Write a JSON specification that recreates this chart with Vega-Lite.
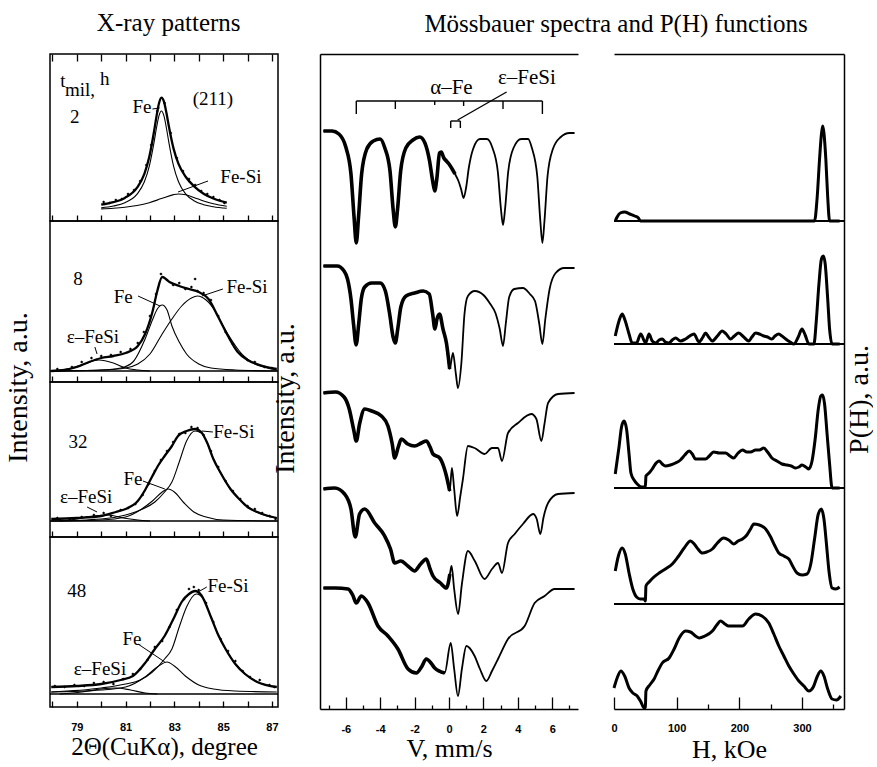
{
"$schema": "https://vega.github.io/schema/vega-lite/v6.json",
"background": "white",
"padding": {"left": 3, "top": 10, "right": 0, "bottom": 0},
"config": {
 "font": "Liberation Serif",
 "view": {"stroke": null},
 "axis": {"grid": false, "domainColor": "black", "tickColor": "black", "labelColor": "black", "titleColor": "black", "labelFont": "Liberation Sans", "labelFontWeight": "bold", "labelFontSize": 11, "titleFont": "Liberation Serif", "titleFontWeight": "normal", "domainWidth": 1.5, "tickWidth": 1.3, "labelFlush": false, "labelOverlap": false},
 "title": {"font": "Liberation Serif", "fontWeight": "normal", "fontSize": 25, "color": "black"}
},
"datasets": {
 "xrd": [
  {"p":1,"s":"tot","x":80.0,"y":16.3},{"p":1,"s":"tot","x":80.5,"y":18.8},{"p":1,"s":"tot","x":80.97,"y":23.1},{"p":1,"s":"tot","x":81.47,"y":33.3},{"p":1,"s":"tot","x":81.77,"y":47.2},{"p":1,"s":"tot","x":81.97,"y":64.0},{"p":1,"s":"tot","x":82.17,"y":90.0},{"p":1,"s":"tot","x":82.27,"y":105.1},{"p":1,"s":"tot","x":82.37,"y":117.8},{"p":1,"s":"tot","x":82.47,"y":123.4},{"p":1,"s":"tot","x":82.57,"y":119.6},{"p":1,"s":"tot","x":82.67,"y":108.7},{"p":1,"s":"tot","x":82.77,"y":95.3},{"p":1,"s":"tot","x":82.97,"y":72.1},{"p":1,"s":"tot","x":83.17,"y":57.2},{"p":1,"s":"tot","x":83.47,"y":44.0},{"p":1,"s":"tot","x":83.8,"y":34.9},{"p":1,"s":"tot","x":84.2,"y":27.3},{"p":1,"s":"tot","x":84.6,"y":22.5},{"p":1,"s":"tot","x":85.15,"y":18.4},
  {"p":1,"s":"fe","x":80.0,"y":13.2},{"p":1,"s":"fe","x":80.5,"y":15},{"p":1,"s":"fe","x":80.97,"y":18.3},{"p":1,"s":"fe","x":81.47,"y":26.8},{"p":1,"s":"fe","x":81.77,"y":39.2},{"p":1,"s":"fe","x":81.97,"y":54.7},{"p":1,"s":"fe","x":82.17,"y":79.2},{"p":1,"s":"fe","x":82.27,"y":93.5},{"p":1,"s":"fe","x":82.37,"y":105.3},{"p":1,"s":"fe","x":82.47,"y":110},{"p":1,"s":"fe","x":82.57,"y":105.3},{"p":1,"s":"fe","x":82.67,"y":93.5},{"p":1,"s":"fe","x":82.77,"y":79.2},{"p":1,"s":"fe","x":82.97,"y":54.7},{"p":1,"s":"fe","x":83.17,"y":39.2},{"p":1,"s":"fe","x":83.47,"y":26.8},{"p":1,"s":"fe","x":83.8,"y":20.3},{"p":1,"s":"fe","x":84.2,"y":16.3},{"p":1,"s":"fe","x":84.6,"y":14.3},{"p":1,"s":"fe","x":85.15,"y":12.7},
  {"p":1,"s":"fesi","x":80.0,"y":12.1},{"p":1,"s":"fesi","x":80.5,"y":12.8},{"p":1,"s":"fesi","x":80.97,"y":13.8},{"p":1,"s":"fesi","x":81.47,"y":15.5},{"p":1,"s":"fesi","x":81.97,"y":18.3},{"p":1,"s":"fesi","x":82.47,"y":22.4},{"p":1,"s":"fesi","x":82.97,"y":26.4},{"p":1,"s":"fesi","x":83.17,"y":27},{"p":1,"s":"fesi","x":83.47,"y":26.2},{"p":1,"s":"fesi","x":83.8,"y":23.6},{"p":1,"s":"fesi","x":84.2,"y":20},{"p":1,"s":"fesi","x":84.6,"y":17.2},{"p":1,"s":"fesi","x":85.15,"y":14.7},
  {"p":1,"s":"dot","x":80.1,"y":19},{"p":1,"s":"dot","x":80.35,"y":18},{"p":1,"s":"dot","x":80.6,"y":21},{"p":1,"s":"dot","x":80.85,"y":22},{"p":1,"s":"dot","x":81.1,"y":27},{"p":1,"s":"dot","x":81.35,"y":31},{"p":1,"s":"dot","x":81.6,"y":40},{"p":1,"s":"dot","x":81.85,"y":56},{"p":1,"s":"dot","x":82.05,"y":76},{"p":1,"s":"dot","x":82.3,"y":110},{"p":1,"s":"dot","x":82.6,"y":118},{"p":1,"s":"dot","x":82.85,"y":88},{"p":1,"s":"dot","x":83.1,"y":63},{"p":1,"s":"dot","x":83.35,"y":50},{"p":1,"s":"dot","x":83.6,"y":42},{"p":1,"s":"dot","x":83.85,"y":36},{"p":1,"s":"dot","x":84.1,"y":30},{"p":1,"s":"dot","x":84.35,"y":27},{"p":1,"s":"dot","x":84.6,"y":24},{"p":1,"s":"dot","x":84.85,"y":21},{"p":1,"s":"dot","x":85.05,"y":18},

  {"p":2,"s":"tot","x":77.95,"y":11},{"p":2,"s":"tot","x":78.5,"y":12},{"p":2,"s":"tot","x":79.0,"y":15},{"p":2,"s":"tot","x":79.5,"y":20},{"p":2,"s":"tot","x":80.0,"y":24},{"p":2,"s":"tot","x":80.5,"y":26},{"p":2,"s":"tot","x":81.0,"y":29},{"p":2,"s":"tot","x":81.5,"y":36},{"p":2,"s":"tot","x":81.8,"y":48},{"p":2,"s":"tot","x":82.1,"y":70},{"p":2,"s":"tot","x":82.3,"y":91},{"p":2,"s":"tot","x":82.5,"y":105},{"p":2,"s":"tot","x":82.8,"y":100},{"p":2,"s":"tot","x":83.2,"y":96},{"p":2,"s":"tot","x":83.6,"y":93},{"p":2,"s":"tot","x":84.0,"y":90},{"p":2,"s":"tot","x":84.4,"y":83},{"p":2,"s":"tot","x":84.8,"y":65},{"p":2,"s":"tot","x":85.2,"y":46},{"p":2,"s":"tot","x":85.6,"y":30},{"p":2,"s":"tot","x":86.0,"y":22},{"p":2,"s":"tot","x":86.5,"y":17},{"p":2,"s":"tot","x":87.2,"y":13},
  {"p":2,"s":"fe","x":77.95,"y":11},{"p":2,"s":"fe","x":80.0,"y":12},{"p":2,"s":"fe","x":80.8,"y":14},{"p":2,"s":"fe","x":81.3,"y":20},{"p":2,"s":"fe","x":81.8,"y":43},{"p":2,"s":"fe","x":82.1,"y":62},{"p":2,"s":"fe","x":82.3,"y":73},{"p":2,"s":"fe","x":82.5,"y":77},{"p":2,"s":"fe","x":82.7,"y":72},{"p":2,"s":"fe","x":82.9,"y":56},{"p":2,"s":"fe","x":83.2,"y":40},{"p":2,"s":"fe","x":83.5,"y":28},{"p":2,"s":"fe","x":84.0,"y":18},{"p":2,"s":"fe","x":84.5,"y":14},{"p":2,"s":"fe","x":85.5,"y":12},{"p":2,"s":"fe","x":87.2,"y":11},
  {"p":2,"s":"fesi","x":77.95,"y":11},{"p":2,"s":"fesi","x":80.0,"y":12},{"p":2,"s":"fesi","x":81.0,"y":14},{"p":2,"s":"fesi","x":81.5,"y":18},{"p":2,"s":"fesi","x":82.0,"y":28},{"p":2,"s":"fesi","x":82.5,"y":48},{"p":2,"s":"fesi","x":82.9,"y":63},{"p":2,"s":"fesi","x":83.3,"y":76},{"p":2,"s":"fesi","x":83.7,"y":84},{"p":2,"s":"fesi","x":83.95,"y":86},{"p":2,"s":"fesi","x":84.3,"y":82},{"p":2,"s":"fesi","x":84.7,"y":70},{"p":2,"s":"fesi","x":85.0,"y":56},{"p":2,"s":"fesi","x":85.4,"y":40},{"p":2,"s":"fesi","x":85.8,"y":27},{"p":2,"s":"fesi","x":86.3,"y":18},{"p":2,"s":"fesi","x":86.8,"y":14},{"p":2,"s":"fesi","x":87.2,"y":12},
  {"p":2,"s":"eps","x":77.95,"y":11},{"p":2,"s":"eps","x":78.6,"y":13},{"p":2,"s":"eps","x":79.3,"y":18},{"p":2,"s":"eps","x":79.9,"y":22},{"p":2,"s":"eps","x":80.5,"y":19},{"p":2,"s":"eps","x":81.0,"y":14},{"p":2,"s":"eps","x":81.5,"y":12},{"p":2,"s":"eps","x":82.0,"y":11},
  {"p":2,"s":"dot","x":78.2,"y":13},{"p":2,"s":"dot","x":78.8,"y":15},{"p":2,"s":"dot","x":79.2,"y":20},{"p":2,"s":"dot","x":79.6,"y":24},{"p":2,"s":"dot","x":80.0,"y":26},{"p":2,"s":"dot","x":80.4,"y":27},{"p":2,"s":"dot","x":80.8,"y":30},{"p":2,"s":"dot","x":81.2,"y":33},{"p":2,"s":"dot","x":81.5,"y":39},{"p":2,"s":"dot","x":81.75,"y":50},{"p":2,"s":"dot","x":82.0,"y":66},{"p":2,"s":"dot","x":82.25,"y":88},{"p":2,"s":"dot","x":82.45,"y":108},{"p":2,"s":"dot","x":82.7,"y":102},{"p":2,"s":"dot","x":82.95,"y":97},{"p":2,"s":"dot","x":83.2,"y":99},{"p":2,"s":"dot","x":83.45,"y":93},{"p":2,"s":"dot","x":83.7,"y":95},{"p":2,"s":"dot","x":83.85,"y":103},{"p":2,"s":"dot","x":83.95,"y":91},{"p":2,"s":"dot","x":84.2,"y":89},{"p":2,"s":"dot","x":84.5,"y":82},{"p":2,"s":"dot","x":84.8,"y":66},{"p":2,"s":"dot","x":85.1,"y":50},{"p":2,"s":"dot","x":85.4,"y":38},{"p":2,"s":"dot","x":85.7,"y":28},{"p":2,"s":"dot","x":86.0,"y":22},{"p":2,"s":"dot","x":86.3,"y":20},{"p":2,"s":"dot","x":86.7,"y":15},{"p":2,"s":"dot","x":87.0,"y":14},

  {"p":3,"s":"tot","x":77.95,"y":18},{"p":3,"s":"tot","x":79.0,"y":19},{"p":3,"s":"tot","x":80.0,"y":21},{"p":3,"s":"tot","x":80.6,"y":25},{"p":3,"s":"tot","x":81.0,"y":28},{"p":3,"s":"tot","x":81.5,"y":36},{"p":3,"s":"tot","x":81.8,"y":47},{"p":3,"s":"tot","x":82.1,"y":61},{"p":3,"s":"tot","x":82.35,"y":72},{"p":3,"s":"tot","x":82.6,"y":81},{"p":3,"s":"tot","x":82.9,"y":91},{"p":3,"s":"tot","x":83.15,"y":101},{"p":3,"s":"tot","x":83.5,"y":106},{"p":3,"s":"tot","x":83.85,"y":108},{"p":3,"s":"tot","x":84.1,"y":105},{"p":3,"s":"tot","x":84.35,"y":94},{"p":3,"s":"tot","x":84.6,"y":78},{"p":3,"s":"tot","x":84.9,"y":64},{"p":3,"s":"tot","x":85.3,"y":48},{"p":3,"s":"tot","x":85.7,"y":37},{"p":3,"s":"tot","x":86.0,"y":30},{"p":3,"s":"tot","x":86.5,"y":24},{"p":3,"s":"tot","x":87.2,"y":19},
  {"p":3,"s":"fe","x":77.95,"y":16},{"p":3,"s":"fe","x":80.0,"y":17},{"p":3,"s":"fe","x":81.0,"y":20},{"p":3,"s":"fe","x":81.6,"y":27},{"p":3,"s":"fe","x":82.1,"y":36},{"p":3,"s":"fe","x":82.5,"y":45},{"p":3,"s":"fe","x":82.75,"y":48},{"p":3,"s":"fe","x":83.0,"y":45},{"p":3,"s":"fe","x":83.4,"y":34},{"p":3,"s":"fe","x":83.8,"y":25},{"p":3,"s":"fe","x":84.3,"y":20},{"p":3,"s":"fe","x":85.0,"y":17},{"p":3,"s":"fe","x":87.2,"y":16},
  {"p":3,"s":"fesi","x":77.95,"y":16},{"p":3,"s":"fesi","x":80.0,"y":18},{"p":3,"s":"fesi","x":81.0,"y":22},{"p":3,"s":"fesi","x":81.7,"y":28},{"p":3,"s":"fesi","x":82.2,"y":35},{"p":3,"s":"fesi","x":82.6,"y":45},{"p":3,"s":"fesi","x":82.9,"y":55},{"p":3,"s":"fesi","x":83.2,"y":75},{"p":3,"s":"fesi","x":83.5,"y":96},{"p":3,"s":"fesi","x":83.85,"y":106},{"p":3,"s":"fesi","x":84.1,"y":104},{"p":3,"s":"fesi","x":84.35,"y":94},{"p":3,"s":"fesi","x":84.6,"y":78},{"p":3,"s":"fesi","x":84.9,"y":64},{"p":3,"s":"fesi","x":85.3,"y":48},{"p":3,"s":"fesi","x":85.7,"y":37},{"p":3,"s":"fesi","x":86.2,"y":27},{"p":3,"s":"fesi","x":86.8,"y":21},{"p":3,"s":"fesi","x":87.2,"y":19},
  {"p":3,"s":"eps","x":78.3,"y":16},{"p":3,"s":"eps","x":79.0,"y":18},{"p":3,"s":"eps","x":79.7,"y":21},{"p":3,"s":"eps","x":80.3,"y":22},{"p":3,"s":"eps","x":80.9,"y":19},{"p":3,"s":"eps","x":81.5,"y":17},{"p":3,"s":"eps","x":82.0,"y":16},
  {"p":3,"s":"dot","x":78.2,"y":19},{"p":3,"s":"dot","x":78.7,"y":18},{"p":3,"s":"dot","x":79.2,"y":20},{"p":3,"s":"dot","x":79.7,"y":22},{"p":3,"s":"dot","x":80.1,"y":24},{"p":3,"s":"dot","x":80.4,"y":21},{"p":3,"s":"dot","x":80.8,"y":27},{"p":3,"s":"dot","x":81.1,"y":29},{"p":3,"s":"dot","x":81.4,"y":33},{"p":3,"s":"dot","x":81.7,"y":42},{"p":3,"s":"dot","x":81.95,"y":53},{"p":3,"s":"dot","x":82.2,"y":66},{"p":3,"s":"dot","x":82.45,"y":77},{"p":3,"s":"dot","x":82.7,"y":86},{"p":3,"s":"dot","x":82.95,"y":95},{"p":3,"s":"dot","x":83.2,"y":103},{"p":3,"s":"dot","x":83.45,"y":104},{"p":3,"s":"dot","x":83.7,"y":110},{"p":3,"s":"dot","x":83.95,"y":109},{"p":3,"s":"dot","x":84.2,"y":102},{"p":3,"s":"dot","x":84.5,"y":86},{"p":3,"s":"dot","x":84.8,"y":70},{"p":3,"s":"dot","x":85.1,"y":56},{"p":3,"s":"dot","x":85.4,"y":46},{"p":3,"s":"dot","x":85.7,"y":38},{"p":3,"s":"dot","x":86.0,"y":31},{"p":3,"s":"dot","x":86.3,"y":28},{"p":3,"s":"dot","x":86.6,"y":24},{"p":3,"s":"dot","x":86.9,"y":21},{"p":3,"s":"dot","x":87.15,"y":18},

  {"p":4,"s":"tot","x":77.95,"y":20},{"p":4,"s":"tot","x":79.0,"y":21},{"p":4,"s":"tot","x":80.0,"y":23},{"p":4,"s":"tot","x":80.8,"y":27},{"p":4,"s":"tot","x":81.3,"y":31},{"p":4,"s":"tot","x":81.8,"y":44},{"p":4,"s":"tot","x":82.2,"y":58},{"p":4,"s":"tot","x":82.6,"y":71},{"p":4,"s":"tot","x":83.0,"y":90},{"p":4,"s":"tot","x":83.3,"y":105},{"p":4,"s":"tot","x":83.6,"y":113},{"p":4,"s":"tot","x":83.85,"y":116},{"p":4,"s":"tot","x":84.1,"y":112},{"p":4,"s":"tot","x":84.5,"y":90},{"p":4,"s":"tot","x":84.8,"y":72},{"p":4,"s":"tot","x":85.1,"y":58},{"p":4,"s":"tot","x":85.5,"y":43},{"p":4,"s":"tot","x":85.9,"y":33},{"p":4,"s":"tot","x":86.4,"y":25},{"p":4,"s":"tot","x":87.2,"y":20},
  {"p":4,"s":"fe","x":77.95,"y":15},{"p":4,"s":"fe","x":80.0,"y":17},{"p":4,"s":"fe","x":81.0,"y":20},{"p":4,"s":"fe","x":81.8,"y":30},{"p":4,"s":"fe","x":82.3,"y":40},{"p":4,"s":"fe","x":82.7,"y":45},{"p":4,"s":"fe","x":83.0,"y":41},{"p":4,"s":"fe","x":83.45,"y":31},{"p":4,"s":"fe","x":84.0,"y":22},{"p":4,"s":"fe","x":84.6,"y":18},{"p":4,"s":"fe","x":85.5,"y":16},{"p":4,"s":"fe","x":87.2,"y":15},
  {"p":4,"s":"fesi","x":77.95,"y":15},{"p":4,"s":"fesi","x":80.0,"y":19},{"p":4,"s":"fesi","x":81.0,"y":23},{"p":4,"s":"fesi","x":81.6,"y":27},{"p":4,"s":"fesi","x":82.1,"y":35},{"p":4,"s":"fesi","x":82.6,"y":48},{"p":4,"s":"fesi","x":82.9,"y":58},{"p":4,"s":"fesi","x":83.2,"y":80},{"p":4,"s":"fesi","x":83.5,"y":100},{"p":4,"s":"fesi","x":83.9,"y":113},{"p":4,"s":"fesi","x":84.2,"y":108},{"p":4,"s":"fesi","x":84.5,"y":90},{"p":4,"s":"fesi","x":84.8,"y":72},{"p":4,"s":"fesi","x":85.1,"y":58},{"p":4,"s":"fesi","x":85.5,"y":43},{"p":4,"s":"fesi","x":85.9,"y":33},{"p":4,"s":"fesi","x":86.4,"y":25},{"p":4,"s":"fesi","x":87.2,"y":20},
  {"p":4,"s":"eps","x":78.3,"y":13},{"p":4,"s":"eps","x":79.2,"y":15},{"p":4,"s":"eps","x":80.0,"y":18},{"p":4,"s":"eps","x":80.6,"y":19},{"p":4,"s":"eps","x":81.2,"y":17},{"p":4,"s":"eps","x":81.8,"y":14},{"p":4,"s":"eps","x":82.3,"y":13},
  {"p":4,"s":"dot","x":78.1,"y":21},{"p":4,"s":"dot","x":78.5,"y":20},{"p":4,"s":"dot","x":78.9,"y":22},{"p":4,"s":"dot","x":79.3,"y":21},{"p":4,"s":"dot","x":79.7,"y":24},{"p":4,"s":"dot","x":80.1,"y":25},{"p":4,"s":"dot","x":80.5,"y":23},{"p":4,"s":"dot","x":80.9,"y":28},{"p":4,"s":"dot","x":81.3,"y":33},{"p":4,"s":"dot","x":81.6,"y":38},{"p":4,"s":"dot","x":81.9,"y":47},{"p":4,"s":"dot","x":82.2,"y":60},{"p":4,"s":"dot","x":82.5,"y":66},{"p":4,"s":"dot","x":82.8,"y":80},{"p":4,"s":"dot","x":83.1,"y":97},{"p":4,"s":"dot","x":83.4,"y":108},{"p":4,"s":"dot","x":83.6,"y":118},{"p":4,"s":"dot","x":83.8,"y":120},{"p":4,"s":"dot","x":84.0,"y":117},{"p":4,"s":"dot","x":84.3,"y":104},{"p":4,"s":"dot","x":84.6,"y":85},{"p":4,"s":"dot","x":84.9,"y":68},{"p":4,"s":"dot","x":85.2,"y":56},{"p":4,"s":"dot","x":85.5,"y":46},{"p":4,"s":"dot","x":85.8,"y":36},{"p":4,"s":"dot","x":86.1,"y":30},{"p":4,"s":"dot","x":86.5,"y":27},{"p":4,"s":"dot","x":86.9,"y":22},{"p":4,"s":"dot","x":87.1,"y":20}
 ],
 "xbase": [{"p":2,"y":11},{"p":3,"y":16},{"p":4,"y":13}],
 "xlead": [
  {"p":1,"g":"a","x":82.1,"y":112},{"p":1,"g":"a","x":82.4,"y":113},
  {"p":1,"g":"b","x":84.38,"y":40},{"p":1,"g":"b","x":83.15,"y":29},
  {"p":2,"g":"a","x":81.51,"y":86},{"p":2,"g":"a","x":82.41,"y":76},
  {"p":2,"g":"b","x":84.99,"y":93},{"p":2,"g":"b","x":84.13,"y":86},
  {"p":2,"g":"c","x":79.74,"y":35},{"p":2,"g":"c","x":79.83,"y":28},
  {"p":3,"g":"a","x":84.58,"y":105},{"p":3,"g":"a","x":84.13,"y":106},
  {"p":3,"g":"b","x":81.71,"y":56},{"p":3,"g":"b","x":82.61,"y":48},
  {"p":3,"g":"c","x":79.42,"y":30},{"p":3,"g":"c","x":79.83,"y":25},
  {"p":4,"g":"a","x":84.33,"y":120},{"p":4,"g":"a","x":83.97,"y":115},
  {"p":4,"g":"b","x":81.51,"y":63},{"p":4,"g":"b","x":82.61,"y":45}
 ],
 "xlab": [
  {"p":1,"x":78.43,"y":140,"t":"t"},{"p":1,"x":79.13,"y":131,"t":"mil,"},{"p":1,"x":80.15,"y":142,"t":"h"},{"p":1,"x":78.92,"y":104,"t":"2"},{"p":1,"x":81.67,"y":114,"t":"Fe"},{"p":1,"x":84.58,"y":122,"t":"(211)"},{"p":1,"x":85.73,"y":44,"t":"Fe-Si"},
  {"p":2,"x":79.05,"y":103,"t":"8"},{"p":2,"x":80.9,"y":85,"t":"Fe"},{"p":2,"x":85.98,"y":95,"t":"Fe-Si"},{"p":2,"x":79.66,"y":45,"t":"ε–FeSi"},
  {"p":3,"x":79.05,"y":95,"t":"32"},{"p":3,"x":85.44,"y":105,"t":"Fe-Si"},{"p":3,"x":81.3,"y":58,"t":"Fe"},{"p":3,"x":79.38,"y":40,"t":"ε–FeSi"},
  {"p":4,"x":79.0,"y":116,"t":"48"},{"p":4,"x":85.2,"y":121,"t":"Fe-Si"},{"p":4,"x":81.26,"y":68,"t":"Fe"},{"p":4,"x":79.95,"y":38,"t":"ε–FeSi"}
 ],
 "ms": [
  {"s":1,"v":-7.3,"y":578},{"s":1,"v":-6.8,"y":578},{"s":1,"v":-6.4,"y":575},{"s":1,"v":-6.0,"y":562},{"s":1,"v":-5.7,"y":535},{"s":1,"v":-5.52,"y":492},{"s":1,"v":-5.39,"y":466},{"s":1,"v":-5.26,"y":492},{"s":1,"v":-5.08,"y":535},{"s":1,"v":-4.78,"y":560},{"s":1,"v":-4.4,"y":568},{"s":1,"v":-4.0,"y":570},{"s":1,"v":-3.73,"y":561},{"s":1,"v":-3.43,"y":538},{"s":1,"v":-3.25,"y":500},{"s":1,"v":-3.12,"y":482},{"s":1,"v":-2.99,"y":500},{"s":1,"v":-2.81,"y":538},{"s":1,"v":-2.51,"y":561},{"s":1,"v":-2.1,"y":569},{"s":1,"v":-1.7,"y":572},{"s":1,"v":-1.4,"y":566},{"s":1,"v":-1.13,"y":548},{"s":1,"v":-0.95,"y":528},{"s":1,"v":-0.83,"y":518},{"s":1,"v":-0.71,"y":530},{"s":1,"v":-0.55,"y":556},{"s":1,"v":-0.45,"y":557},{"s":1,"v":-0.3,"y":551},{"s":1,"v":-0.15,"y":548},{"s":1,"v":0.0,"y":545},{"s":1,"v":0.15,"y":541},{"s":1,"v":0.35,"y":535},{"s":1,"v":0.55,"y":528},{"s":1,"v":0.7,"y":520},{"s":1,"v":0.85,"y":511},{"s":1,"v":1.0,"y":522},{"s":1,"v":1.15,"y":541},{"s":1,"v":1.4,"y":560},{"s":1,"v":1.8,"y":570},{"s":1,"v":2.2,"y":570},{"s":1,"v":2.53,"y":561},{"s":1,"v":2.84,"y":537},{"s":1,"v":3.02,"y":500},{"s":1,"v":3.14,"y":484},{"s":1,"v":3.26,"y":500},{"s":1,"v":3.44,"y":537},{"s":1,"v":3.75,"y":561},{"s":1,"v":4.2,"y":570},{"s":1,"v":4.6,"y":570},{"s":1,"v":4.82,"y":561},{"s":1,"v":5.13,"y":533},{"s":1,"v":5.31,"y":488},{"s":1,"v":5.43,"y":466},{"s":1,"v":5.55,"y":488},{"s":1,"v":5.73,"y":533},{"s":1,"v":6.04,"y":560},{"s":1,"v":6.5,"y":572},{"s":1,"v":7.0,"y":576},{"s":1,"v":7.3,"y":576},
  {"s":2,"v":-7.3,"y":443},{"s":2,"v":-6.5,"y":443},{"s":2,"v":-6.1,"y":438},{"s":2,"v":-5.9,"y":430},{"s":2,"v":-5.7,"y":410},{"s":2,"v":-5.55,"y":385},{"s":2,"v":-5.4,"y":364},{"s":2,"v":-5.25,"y":385},{"s":2,"v":-5.1,"y":410},{"s":2,"v":-4.9,"y":422},{"s":2,"v":-4.5,"y":426},{"s":2,"v":-4.0,"y":426},{"s":2,"v":-3.7,"y":418},{"s":2,"v":-3.45,"y":395},{"s":2,"v":-3.25,"y":372},{"s":2,"v":-3.12,"y":366},{"s":2,"v":-2.98,"y":380},{"s":2,"v":-2.8,"y":402},{"s":2,"v":-2.5,"y":413},{"s":2,"v":-2.0,"y":416},{"s":2,"v":-1.5,"y":418},{"s":2,"v":-1.15,"y":415},{"s":2,"v":-0.95,"y":395},{"s":2,"v":-0.82,"y":380},{"s":2,"v":-0.7,"y":390},{"s":2,"v":-0.55,"y":395},{"s":2,"v":-0.35,"y":380},{"s":2,"v":-0.15,"y":366},{"s":2,"v":0.04,"y":340},{"s":2,"v":0.23,"y":356},{"s":2,"v":0.4,"y":335},{"s":2,"v":0.52,"y":321},{"s":2,"v":0.72,"y":346},{"s":2,"v":0.9,"y":395},{"s":2,"v":1.1,"y":413},{"s":2,"v":1.5,"y":418},{"s":2,"v":2.0,"y":414},{"s":2,"v":2.4,"y":405},{"s":2,"v":2.7,"y":396},{"s":2,"v":2.95,"y":380},{"s":2,"v":3.14,"y":363},{"s":2,"v":3.3,"y":385},{"s":2,"v":3.5,"y":412},{"s":2,"v":3.8,"y":420},{"s":2,"v":4.3,"y":421},{"s":2,"v":4.7,"y":415},{"s":2,"v":5.0,"y":408},{"s":2,"v":5.25,"y":385},{"s":2,"v":5.43,"y":365},{"s":2,"v":5.6,"y":390},{"s":2,"v":5.85,"y":420},{"s":2,"v":6.2,"y":436},{"s":2,"v":6.7,"y":441},{"s":2,"v":7.3,"y":441},
  {"s":3,"v":-7.3,"y":316},{"s":3,"v":-6.6,"y":317},{"s":3,"v":-6.1,"y":312},{"s":3,"v":-5.8,"y":300},{"s":3,"v":-5.55,"y":280},{"s":3,"v":-5.39,"y":268},{"s":3,"v":-5.2,"y":285},{"s":3,"v":-4.9,"y":300},{"s":3,"v":-4.5,"y":298},{"s":3,"v":-3.93,"y":293},{"s":3,"v":-3.55,"y":283},{"s":3,"v":-3.3,"y":265},{"s":3,"v":-3.16,"y":251},{"s":3,"v":-2.95,"y":262},{"s":3,"v":-2.77,"y":270},{"s":3,"v":-2.4,"y":265},{"s":3,"v":-2.0,"y":263},{"s":3,"v":-1.6,"y":266},{"s":3,"v":-1.32,"y":268},{"s":3,"v":-1.1,"y":262},{"s":3,"v":-0.93,"y":255},{"s":3,"v":-0.54,"y":251},{"s":3,"v":-0.3,"y":242},{"s":3,"v":-0.15,"y":233},{"s":3,"v":0.04,"y":218},{"s":3,"v":0.17,"y":241},{"s":3,"v":0.3,"y":220},{"s":3,"v":0.47,"y":193},{"s":3,"v":0.65,"y":212},{"s":3,"v":0.81,"y":230},{"s":3,"v":1.1,"y":263},{"s":3,"v":1.49,"y":261},{"s":3,"v":2.07,"y":255},{"s":3,"v":2.5,"y":261},{"s":3,"v":2.85,"y":261},{"s":3,"v":3.08,"y":248},{"s":3,"v":3.43,"y":276},{"s":3,"v":4.01,"y":286},{"s":3,"v":4.79,"y":295},{"s":3,"v":5.08,"y":290},{"s":3,"v":5.37,"y":268},{"s":3,"v":5.55,"y":285},{"s":3,"v":5.76,"y":306},{"s":3,"v":6.34,"y":315},{"s":3,"v":7.3,"y":316},
  {"s":4,"v":-7.3,"y":220},{"s":4,"v":-6.65,"y":221},{"s":4,"v":-6.07,"y":215},{"s":4,"v":-5.7,"y":200},{"s":4,"v":-5.45,"y":172},{"s":4,"v":-5.2,"y":195},{"s":4,"v":-4.9,"y":200},{"s":4,"v":-4.32,"y":186},{"s":4,"v":-3.74,"y":173},{"s":4,"v":-3.4,"y":160},{"s":4,"v":-3.16,"y":146},{"s":4,"v":-2.8,"y":148},{"s":4,"v":-2.39,"y":143},{"s":4,"v":-2.0,"y":138},{"s":4,"v":-1.65,"y":145},{"s":4,"v":-1.32,"y":150},{"s":4,"v":-1.1,"y":140},{"s":4,"v":-0.93,"y":133},{"s":4,"v":-0.5,"y":126},{"s":4,"v":-0.15,"y":121},{"s":4,"v":0.05,"y":135},{"s":4,"v":0.15,"y":143},{"s":4,"v":0.3,"y":120},{"s":4,"v":0.53,"y":95},{"s":4,"v":0.75,"y":125},{"s":4,"v":1.1,"y":158},{"s":4,"v":1.5,"y":148},{"s":4,"v":2.07,"y":130},{"s":4,"v":2.5,"y":140},{"s":4,"v":2.85,"y":146},{"s":4,"v":3.08,"y":136},{"s":4,"v":3.43,"y":166},{"s":4,"v":3.82,"y":175},{"s":4,"v":4.3,"y":185},{"s":4,"v":4.89,"y":195},{"s":4,"v":5.1,"y":190},{"s":4,"v":5.31,"y":175},{"s":4,"v":5.5,"y":192},{"s":4,"v":5.76,"y":206},{"s":4,"v":6.34,"y":215},{"s":4,"v":7.3,"y":216},
  {"s":5,"v":-7.3,"y":121},{"s":5,"v":-6.6,"y":121},{"s":5,"v":-5.87,"y":120},{"s":5,"v":-5.6,"y":114},{"s":5,"v":-5.39,"y":106},{"s":5,"v":-5.1,"y":113},{"s":5,"v":-4.71,"y":106},{"s":5,"v":-4.13,"y":83},{"s":5,"v":-3.55,"y":73},{"s":5,"v":-2.97,"y":60},{"s":5,"v":-2.38,"y":40},{"s":5,"v":-1.9,"y":36},{"s":5,"v":-1.6,"y":42},{"s":5,"v":-1.32,"y":50},{"s":5,"v":-1.05,"y":46},{"s":5,"v":-0.83,"y":41},{"s":5,"v":-0.25,"y":36},{"s":5,"v":0.1,"y":66},{"s":5,"v":0.3,"y":40},{"s":5,"v":0.52,"y":13},{"s":5,"v":0.75,"y":40},{"s":5,"v":1.01,"y":63},{"s":5,"v":1.49,"y":53},{"s":5,"v":1.8,"y":40},{"s":5,"v":2.17,"y":28},{"s":5,"v":2.5,"y":38},{"s":5,"v":2.85,"y":50},{"s":5,"v":3.43,"y":70},{"s":5,"v":4.4,"y":83},{"s":5,"v":4.98,"y":106},{"s":5,"v":5.56,"y":113},{"s":5,"v":6.14,"y":120},{"s":5,"v":7.3,"y":120}
 ],
 "msann": [
  {"g":"a0","v":-5.39,"y":608},{"g":"a0","v":5.43,"y":608},
  {"g":"a1","v":-5.39,"y":608},{"g":"a1","v":-5.39,"y":595},
  {"g":"a2","v":-3.12,"y":608},{"g":"a2","v":-3.12,"y":600},
  {"g":"a3","v":-0.83,"y":608},{"g":"a3","v":-0.83,"y":604},
  {"g":"a4","v":0.85,"y":608},{"g":"a4","v":0.85,"y":603},
  {"g":"a5","v":3.14,"y":608},{"g":"a5","v":3.14,"y":600},
  {"g":"a6","v":5.43,"y":608},{"g":"a6","v":5.43,"y":595},
  {"g":"e1","v":0.1,"y":581},{"g":"e1","v":0.1,"y":588},
  {"g":"e2","v":0.1,"y":588},{"g":"e2","v":0.66,"y":588},
  {"g":"e3","v":0.66,"y":588},{"g":"e3","v":0.66,"y":581},
  {"g":"e4","v":0.5,"y":589},{"g":"e4","v":3.35,"y":617}
 ],
 "mslab": [{"v":0.14,"y":621,"t":"α–Fe"},{"v":4.53,"y":631,"t":"ε–FeSi"}],
 "phbase": [{"y":488},{"y":365},{"y":221},{"y":105}],
 "ph": [
  {"s":1,"h":2,"y":488},{"s":1,"h":5,"y":492},{"s":1,"h":10,"y":496},{"s":1,"h":17,"y":497},{"s":1,"h":25,"y":495},{"s":1,"h":33,"y":493},{"s":1,"h":39,"y":491},{"s":1,"h":42,"y":488},{"s":1,"h":320,"y":488},{"s":1,"h":324,"y":510},{"s":1,"h":328,"y":550},{"s":1,"h":331,"y":575},{"s":1,"h":333,"y":583},{"s":1,"h":335,"y":576},{"s":1,"h":338,"y":550},{"s":1,"h":341,"y":512},{"s":1,"h":344,"y":488},{"s":1,"h":360,"y":488},
  {"s":2,"h":2,"y":373},{"s":2,"h":8,"y":388},{"s":2,"h":13,"y":395},{"s":2,"h":18,"y":388},{"s":2,"h":24,"y":375},{"s":2,"h":29,"y":366},{"s":2,"h":36,"y":366},{"s":2,"h":42.5,"y":375},{"s":2,"h":50.5,"y":366},{"s":2,"h":55.8,"y":375},{"s":2,"h":61,"y":368},{"s":2,"h":66.5,"y":366},{"s":2,"h":72,"y":369},{"s":2,"h":77,"y":370},{"s":2,"h":82,"y":367},{"s":2,"h":87.7,"y":366},{"s":2,"h":93,"y":369},{"s":2,"h":98.4,"y":371},{"s":2,"h":106,"y":368},{"s":2,"h":114,"y":370},{"s":2,"h":121,"y":373},{"s":2,"h":127.6,"y":375},{"s":2,"h":135.6,"y":367},{"s":2,"h":141,"y":371},{"s":2,"h":146,"y":376},{"s":2,"h":151,"y":372},{"s":2,"h":156.8,"y":368},{"s":2,"h":165,"y":373},{"s":2,"h":172.7,"y":378},{"s":2,"h":179,"y":375},{"s":2,"h":186,"y":370},{"s":2,"h":192,"y":373},{"s":2,"h":199,"y":376},{"s":2,"h":207,"y":372},{"s":2,"h":215,"y":368},{"s":2,"h":220,"y":372},{"s":2,"h":226,"y":376},{"s":2,"h":232,"y":375},{"s":2,"h":239,"y":373},{"s":2,"h":245,"y":372},{"s":2,"h":252,"y":370},{"s":2,"h":257,"y":373},{"s":2,"h":263,"y":375},{"s":2,"h":268,"y":373},{"s":2,"h":274,"y":370},{"s":2,"h":281,"y":367},{"s":2,"h":287,"y":365},{"s":2,"h":294,"y":372},{"s":2,"h":300,"y":380},{"s":2,"h":305,"y":374},{"s":2,"h":311,"y":365},{"s":2,"h":319,"y":365},{"s":2,"h":323,"y":390},{"s":2,"h":327,"y":425},{"s":2,"h":331,"y":450},{"s":2,"h":334,"y":453},{"s":2,"h":337,"y":445},{"s":2,"h":341,"y":410},{"s":2,"h":344,"y":380},{"s":2,"h":348,"y":365},{"s":2,"h":360,"y":365},
  {"s":3,"h":2,"y":235},{"s":3,"h":8,"y":262},{"s":3,"h":12,"y":282},{"s":3,"h":16,"y":288},{"s":3,"h":20,"y":280},{"s":3,"h":24,"y":255},{"s":3,"h":27,"y":236},{"s":3,"h":32,"y":229},{"s":3,"h":37,"y":225},{"s":3,"h":44,"y":222},{"s":3,"h":50,"y":222},{"s":3,"h":51,"y":233},{"s":3,"h":56,"y":236},{"s":3,"h":61,"y":240},{"s":3,"h":66,"y":245},{"s":3,"h":72,"y":248},{"s":3,"h":77,"y":245},{"s":3,"h":82,"y":243},{"s":3,"h":90,"y":244},{"s":3,"h":98,"y":246},{"s":3,"h":106,"y":249},{"s":3,"h":113,"y":254},{"s":3,"h":120,"y":258},{"s":3,"h":125,"y":255},{"s":3,"h":130,"y":250},{"s":3,"h":138,"y":250},{"s":3,"h":146,"y":250},{"s":3,"h":152,"y":253},{"s":3,"h":159,"y":257},{"s":3,"h":168,"y":256},{"s":3,"h":178,"y":256},{"s":3,"h":185,"y":253},{"s":3,"h":191,"y":251},{"s":3,"h":198,"y":256},{"s":3,"h":205,"y":259},{"s":3,"h":212,"y":257},{"s":3,"h":218,"y":257},{"s":3,"h":226,"y":259},{"s":3,"h":232,"y":259},{"s":3,"h":239,"y":261},{"s":3,"h":245,"y":257},{"s":3,"h":252,"y":251},{"s":3,"h":260,"y":248},{"s":3,"h":268,"y":245},{"s":3,"h":276,"y":244},{"s":3,"h":283,"y":243},{"s":3,"h":290,"y":241},{"s":3,"h":295,"y":242},{"s":3,"h":300,"y":244},{"s":3,"h":306,"y":242},{"s":3,"h":311,"y":240},{"s":3,"h":316,"y":248},{"s":3,"h":321,"y":270},{"s":3,"h":326,"y":300},{"s":3,"h":330,"y":313},{"s":3,"h":333,"y":314},{"s":3,"h":336,"y":305},{"s":3,"h":340,"y":275},{"s":3,"h":344,"y":245},{"s":3,"h":348,"y":221},{"s":3,"h":360,"y":221},
  {"s":4,"h":2,"y":138},{"s":4,"h":7,"y":153},{"s":4,"h":13,"y":161},{"s":4,"h":18,"y":155},{"s":4,"h":24,"y":136},{"s":4,"h":30,"y":120},{"s":4,"h":36,"y":112},{"s":4,"h":42,"y":110},{"s":4,"h":48,"y":110},{"s":4,"h":50,"y":108},{"s":4,"h":51,"y":123},{"s":4,"h":56,"y":127},{"s":4,"h":62,"y":131},{"s":4,"h":72,"y":136},{"s":4,"h":82,"y":140},{"s":4,"h":93,"y":145},{"s":4,"h":102,"y":152},{"s":4,"h":112,"y":161},{"s":4,"h":122,"y":168},{"s":4,"h":128,"y":165},{"s":4,"h":134,"y":160},{"s":4,"h":141,"y":156},{"s":4,"h":148,"y":157},{"s":4,"h":157,"y":160},{"s":4,"h":165,"y":166},{"s":4,"h":175,"y":171},{"s":4,"h":183,"y":169},{"s":4,"h":191,"y":165},{"s":4,"h":198,"y":168},{"s":4,"h":205,"y":170},{"s":4,"h":212,"y":174},{"s":4,"h":218,"y":180},{"s":4,"h":223,"y":185},{"s":4,"h":232,"y":184},{"s":4,"h":242,"y":180},{"s":4,"h":250,"y":172},{"s":4,"h":256,"y":164},{"s":4,"h":263,"y":156},{"s":4,"h":271,"y":153},{"s":4,"h":279,"y":150},{"s":4,"h":285,"y":143},{"s":4,"h":292,"y":136},{"s":4,"h":300,"y":134},{"s":4,"h":308,"y":135},{"s":4,"h":314,"y":145},{"s":4,"h":320,"y":170},{"s":4,"h":326,"y":195},{"s":4,"h":331,"y":200},{"s":4,"h":335,"y":190},{"s":4,"h":339,"y":165},{"s":4,"h":343,"y":138},{"s":4,"h":348,"y":121},{"s":4,"h":354,"y":120},{"s":4,"h":360,"y":122},
  {"s":5,"h":0,"y":21},{"s":5,"h":5,"y":31},{"s":5,"h":11,"y":38},{"s":5,"h":17,"y":33},{"s":5,"h":24,"y":21},{"s":5,"h":30,"y":16},{"s":5,"h":37,"y":13},{"s":5,"h":43,"y":7},{"s":5,"h":48,"y":1},{"s":5,"h":50,"y":2},{"s":5,"h":51,"y":18},{"s":5,"h":57,"y":24},{"s":5,"h":64,"y":30},{"s":5,"h":70,"y":38},{"s":5,"h":77,"y":46},{"s":5,"h":88,"y":51},{"s":5,"h":96,"y":60},{"s":5,"h":104,"y":71},{"s":5,"h":114,"y":78},{"s":5,"h":122,"y":77},{"s":5,"h":130,"y":73},{"s":5,"h":136,"y":71},{"s":5,"h":145,"y":73},{"s":5,"h":157,"y":78},{"s":5,"h":164,"y":84},{"s":5,"h":170,"y":88},{"s":5,"h":177,"y":85},{"s":5,"h":183,"y":83},{"s":5,"h":193,"y":83},{"s":5,"h":205,"y":83},{"s":5,"h":215,"y":90},{"s":5,"h":226,"y":95},{"s":5,"h":236,"y":93},{"s":5,"h":247,"y":86},{"s":5,"h":255,"y":75},{"s":5,"h":263,"y":63},{"s":5,"h":271,"y":53},{"s":5,"h":279,"y":43},{"s":5,"h":287,"y":35},{"s":5,"h":295,"y":28},{"s":5,"h":303,"y":23},{"s":5,"h":311,"y":18},{"s":5,"h":318,"y":22},{"s":5,"h":324,"y":32},{"s":5,"h":330,"y":38},{"s":5,"h":335,"y":33},{"s":5,"h":341,"y":20},{"s":5,"h":348,"y":10},{"s":5,"h":355,"y":9},{"s":5,"h":362,"y":13}
 ]
},
"hconcat": [
 {
  "title": {"text": "X-ray patterns", "anchor": "middle", "dx": 26, "offset": 17},
  "spacing": 0,
  "bounds": "flush",
  "vconcat": [
   {
    "width": 228, "height": 167,
    "view": {"stroke": "black", "strokeWidth": 1.5},
    "resolve": {"axis": {"x": "independent", "y": "independent"}},
    "layer": [
     {"data": {"name": "xrd"}, "transform": [{"filter": "datum.p == 1 && datum.s != 'tot' && datum.s != 'dot'"}],
      "mark": {"type": "line", "strokeWidth": 1.1, "interpolate": "monotone", "color": "black"},
      "encoding": {"x": {"field": "x", "type": "quantitative", "scale": {"domain": [77.9, 87.25], "nice": false, "zero": false}, "axis": {"orient": "bottom", "values": [78,79,80,81,82,83,84,85,86,87], "tickSize": -6, "labels": false, "domain": false, "title": null}},
       "y": {"field": "y", "type": "quantitative", "scale": {"domain": [0, 167], "nice": false, "zero": false}, "axis": null}, "detail": {"field": "s"}}},
     {"data": {"name": "xrd"}, "transform": [{"filter": "datum.p == 1 && datum.s == 'tot'"}],
      "mark": {"type": "line", "strokeWidth": 2.3, "interpolate": "monotone", "color": "black"},
      "encoding": {"x": {"field": "x", "type": "quantitative", "axis": {"orient": "top", "values": [78,79,80,81,82,83,84,85,86,87], "tickSize": -7, "labels": false, "domain": false, "title": null}},
       "y": {"field": "y", "type": "quantitative", "axis": null}}},
     {"data": {"name": "xrd"}, "transform": [{"filter": "datum.p == 1 && datum.s == 'dot'"}],
      "mark": {"type": "point", "filled": true, "shape": "diamond", "size": 10, "color": "black", "opacity": 1},
      "encoding": {"x": {"field": "x", "type": "quantitative", "axis": null}, "y": {"field": "y", "type": "quantitative", "axis": null}}},
     {"data": {"name": "xlead"}, "transform": [{"filter": "datum.p == 1"}],
      "mark": {"type": "line", "strokeWidth": 1, "color": "black"},
      "encoding": {"x": {"field": "x", "type": "quantitative", "axis": null}, "y": {"field": "y", "type": "quantitative", "axis": null}, "detail": {"field": "g"}}},
     {"data": {"name": "xlab"}, "transform": [{"filter": "datum.p == 1"}],
      "mark": {"type": "text", "fontSize": 19, "font": "Liberation Serif", "align": "center", "baseline": "middle", "color": "black"},
      "encoding": {"x": {"field": "x", "type": "quantitative", "axis": null}, "y": {"field": "y", "type": "quantitative", "axis": null}, "text": {"field": "t"}}}
    ]
   },
   {
    "width": 228, "height": 161,
    "view": {"stroke": "black", "strokeWidth": 1.5},
    "resolve": {"axis": {"x": "independent", "y": "independent"}},
    "layer": [
     {"data": {"name": "xbase"}, "transform": [{"filter": "datum.p == 2"}],
      "mark": {"type": "rule", "strokeWidth": 1.6, "color": "black"},
      "encoding": {"y": {"field": "y", "type": "quantitative", "scale": {"domain": [0, 161], "nice": false, "zero": false}, "axis": null}}},
     {"data": {"name": "xrd"}, "transform": [{"filter": "datum.p == 2 && datum.s != 'tot' && datum.s != 'dot'"}],
      "mark": {"type": "line", "strokeWidth": 1.1, "interpolate": "monotone", "color": "black"},
      "encoding": {"x": {"field": "x", "type": "quantitative", "scale": {"domain": [77.9, 87.25], "nice": false, "zero": false}, "axis": {"orient": "bottom", "values": [78,79,80,81,82,83,84,85,86,87], "tickSize": -6, "labels": false, "domain": false, "title": null}},
       "y": {"field": "y", "type": "quantitative", "axis": null}, "detail": {"field": "s"}}},
     {"data": {"name": "xrd"}, "transform": [{"filter": "datum.p == 2 && datum.s == 'tot'"}],
      "mark": {"type": "line", "strokeWidth": 2.3, "interpolate": "monotone", "color": "black"},
      "encoding": {"x": {"field": "x", "type": "quantitative", "axis": null}, "y": {"field": "y", "type": "quantitative", "axis": null}}},
     {"data": {"name": "xrd"}, "transform": [{"filter": "datum.p == 2 && datum.s == 'dot'"}],
      "mark": {"type": "point", "filled": true, "shape": "diamond", "size": 10, "color": "black", "opacity": 1},
      "encoding": {"x": {"field": "x", "type": "quantitative", "axis": null}, "y": {"field": "y", "type": "quantitative", "axis": null}}},
     {"data": {"name": "xlead"}, "transform": [{"filter": "datum.p == 2"}],
      "mark": {"type": "line", "strokeWidth": 1, "color": "black"},
      "encoding": {"x": {"field": "x", "type": "quantitative", "axis": null}, "y": {"field": "y", "type": "quantitative", "axis": null}, "detail": {"field": "g"}}},
     {"data": {"name": "xlab"}, "transform": [{"filter": "datum.p == 2"}],
      "mark": {"type": "text", "fontSize": 19, "font": "Liberation Serif", "align": "center", "baseline": "middle", "color": "black"},
      "encoding": {"x": {"field": "x", "type": "quantitative", "axis": null}, "y": {"field": "y", "type": "quantitative", "axis": null}, "text": {"field": "t"}}}
    ]
   },
   {
    "width": 228, "height": 155,
    "view": {"stroke": "black", "strokeWidth": 1.5},
    "resolve": {"axis": {"x": "independent", "y": "independent"}},
    "layer": [
     {"data": {"name": "xbase"}, "transform": [{"filter": "datum.p == 3"}],
      "mark": {"type": "rule", "strokeWidth": 1.6, "color": "black"},
      "encoding": {"y": {"field": "y", "type": "quantitative", "scale": {"domain": [0, 155], "nice": false, "zero": false}, "axis": {"orient": "left", "domain": false, "ticks": false, "labels": false, "title": "Intensity, a.u.", "titleFontSize": 28, "titleX": -24, "titleY": 5, "titleBaseline": "alphabetic", "titleAngle": -90, "titleAlign": "center"}}}},
     {"data": {"name": "xrd"}, "transform": [{"filter": "datum.p == 3 && datum.s != 'tot' && datum.s != 'dot'"}],
      "mark": {"type": "line", "strokeWidth": 1.1, "interpolate": "monotone", "color": "black"},
      "encoding": {"x": {"field": "x", "type": "quantitative", "scale": {"domain": [77.9, 87.25], "nice": false, "zero": false}, "axis": {"orient": "bottom", "values": [78,79,80,81,82,83,84,85,86,87], "tickSize": -6, "labels": false, "domain": false, "title": null}},
       "y": {"field": "y", "type": "quantitative", "axis": null}, "detail": {"field": "s"}}},
     {"data": {"name": "xrd"}, "transform": [{"filter": "datum.p == 3 && datum.s == 'tot'"}],
      "mark": {"type": "line", "strokeWidth": 2.3, "interpolate": "monotone", "color": "black"},
      "encoding": {"x": {"field": "x", "type": "quantitative", "axis": null}, "y": {"field": "y", "type": "quantitative", "axis": null}}},
     {"data": {"name": "xrd"}, "transform": [{"filter": "datum.p == 3 && datum.s == 'dot'"}],
      "mark": {"type": "point", "filled": true, "shape": "diamond", "size": 10, "color": "black", "opacity": 1},
      "encoding": {"x": {"field": "x", "type": "quantitative", "axis": null}, "y": {"field": "y", "type": "quantitative", "axis": null}}},
     {"data": {"name": "xlead"}, "transform": [{"filter": "datum.p == 3"}],
      "mark": {"type": "line", "strokeWidth": 1, "color": "black"},
      "encoding": {"x": {"field": "x", "type": "quantitative", "axis": null}, "y": {"field": "y", "type": "quantitative", "axis": null}, "detail": {"field": "g"}}},
     {"data": {"name": "xlab"}, "transform": [{"filter": "datum.p == 3"}],
      "mark": {"type": "text", "fontSize": 19, "font": "Liberation Serif", "align": "center", "baseline": "middle", "color": "black"},
      "encoding": {"x": {"field": "x", "type": "quantitative", "axis": null}, "y": {"field": "y", "type": "quantitative", "axis": null}, "text": {"field": "t"}}}
    ]
   },
   {
    "width": 228, "height": 170,
    "view": {"stroke": "black", "strokeWidth": 1.5},
    "resolve": {"axis": {"x": "independent", "y": "independent"}},
    "layer": [
     {"data": {"name": "xbase"}, "transform": [{"filter": "datum.p == 4"}],
      "mark": {"type": "rule", "strokeWidth": 1.6, "color": "black"},
      "encoding": {"y": {"field": "y", "type": "quantitative", "scale": {"domain": [0, 170], "nice": false, "zero": false}, "axis": null}}},
     {"data": {"name": "xrd"}, "transform": [{"filter": "datum.p == 4 && datum.s != 'tot' && datum.s != 'dot'"}],
      "mark": {"type": "line", "strokeWidth": 1.1, "interpolate": "monotone", "color": "black"},
      "encoding": {"x": {"field": "x", "type": "quantitative", "scale": {"domain": [77.9, 87.25], "nice": false, "zero": false}, "axis": {"orient": "bottom", "values": [78,79,80,81,82,83,84,85,86,87], "tickSize": -6, "labels": true, "labelExpr": "datum.value % 2 === 1 ? datum.label : ''", "labelPadding": 20, "domain": false, "title": "2Θ(CuKα), degree", "titleFontSize": 25, "titleY": 47, "titleBaseline": "alphabetic"}},
       "y": {"field": "y", "type": "quantitative", "axis": null}, "detail": {"field": "s"}}},
     {"data": {"name": "xrd"}, "transform": [{"filter": "datum.p == 4 && datum.s == 'tot'"}],
      "mark": {"type": "line", "strokeWidth": 2.3, "interpolate": "monotone", "color": "black"},
      "encoding": {"x": {"field": "x", "type": "quantitative", "axis": null}, "y": {"field": "y", "type": "quantitative", "axis": null}}},
     {"data": {"name": "xrd"}, "transform": [{"filter": "datum.p == 4 && datum.s == 'dot'"}],
      "mark": {"type": "point", "filled": true, "shape": "diamond", "size": 10, "color": "black", "opacity": 1},
      "encoding": {"x": {"field": "x", "type": "quantitative", "axis": null}, "y": {"field": "y", "type": "quantitative", "axis": null}}},
     {"data": {"name": "xlead"}, "transform": [{"filter": "datum.p == 4"}],
      "mark": {"type": "line", "strokeWidth": 1, "color": "black"},
      "encoding": {"x": {"field": "x", "type": "quantitative", "axis": null}, "y": {"field": "y", "type": "quantitative", "axis": null}, "detail": {"field": "g"}}},
     {"data": {"name": "xlab"}, "transform": [{"filter": "datum.p == 4"}],
      "mark": {"type": "text", "fontSize": 19, "font": "Liberation Serif", "align": "center", "baseline": "middle", "color": "black"},
      "encoding": {"x": {"field": "x", "type": "quantitative", "axis": null}, "y": {"field": "y", "type": "quantitative", "axis": null}, "text": {"field": "t"}}}
    ]
   }
  ]
 },
 {
  "title": {"text": "Mössbauer spectra and P(H) functions", "anchor": "middle", "dx": 44, "offset": 17},
  "spacing": 29,
  "hconcat": [
   {
    "width": 258, "height": 655,
    "resolve": {"axis": {"x": "independent", "y": "independent"}},
    "layer": [
     {"data": {"name": "ms"},
      "mark": {"type": "line", "strokeWidth": 1.8, "interpolate": "monotone", "color": "black"},
      "encoding": {"x": {"field": "v", "type": "quantitative", "scale": {"domain": [-7.5, 7.5], "nice": false, "zero": false}, "axis": {"orient": "bottom", "values": [-7,-6,-5,-4,-3,-2,-1,0,1,2,3,4,5,6,7], "tickSize": {"condition": {"test": "datum.value % 2 === 0", "value": -12}, "value": -4}, "labelExpr": "datum.value % 2 === 0 ? '' + datum.value : ''", "labelPadding": 26, "domain": true, "title": "V, mm/s", "titleFontSize": 26, "titleY": 47, "titleBaseline": "alphabetic"}},
       "y": {"field": "y", "type": "quantitative", "scale": {"domain": [0, 655], "nice": false, "zero": false}, "axis": {"orient": "left", "domain": true, "ticks": false, "labels": false, "title": "Intensity, a.u.", "titleFontSize": 28, "titleX": -27, "titleY": 344, "titleBaseline": "alphabetic", "titleAngle": -90, "titleAlign": "center"}},
       "detail": {"field": "s"}}},
     {"data": {"name": "ms"}, "transform": [{"filter": "datum.v <= (datum.s == 1 ? 0.36 : 0.05)"}],
      "mark": {"type": "line", "strokeWidth": 3.6, "interpolate": "monotone", "color": "black"},
      "encoding": {"x": {"field": "v", "type": "quantitative", "axis": {"orient": "top", "domain": true, "ticks": false, "labels": false, "title": null}},
       "y": {"field": "y", "type": "quantitative", "axis": null}, "detail": {"field": "s"}}},
     {"data": {"name": "msann"},
      "mark": {"type": "line", "strokeWidth": 1.4, "color": "black"},
      "encoding": {"x": {"field": "v", "type": "quantitative", "axis": null}, "y": {"field": "y", "type": "quantitative", "axis": null}, "detail": {"field": "g"}}},
     {"data": {"name": "mslab"},
      "mark": {"type": "text", "fontSize": 21, "font": "Liberation Serif", "align": "center", "baseline": "middle", "color": "black"},
      "encoding": {"x": {"field": "v", "type": "quantitative", "axis": null}, "y": {"field": "y", "type": "quantitative", "axis": null}, "text": {"field": "t"}}}
    ]
   },
   {
    "width": 230, "height": 655,
    "resolve": {"axis": {"x": "independent", "y": "independent"}},
    "layer": [
     {"data": {"name": "phbase"},
      "mark": {"type": "rule", "strokeWidth": 2, "color": "black"},
      "encoding": {"y": {"field": "y", "type": "quantitative", "scale": {"domain": [0, 655], "nice": false, "zero": false}, "axis": null}}},
     {"data": {"name": "ph"}, "transform": [{"filter": "datum.s <= 2"}],
      "mark": {"type": "line", "strokeWidth": 3, "interpolate": "monotone", "color": "black"},
      "encoding": {"x": {"field": "h", "type": "quantitative", "scale": {"domain": [0, 367], "nice": false, "zero": false}, "axis": {"orient": "top", "domain": true, "ticks": false, "labels": false, "title": null}},
       "y": {"field": "y", "type": "quantitative", "axis": null}, "detail": {"field": "s"}}},
     {"data": {"name": "ph"}, "transform": [{"filter": "datum.s >= 3"}],
      "mark": {"type": "line", "strokeWidth": 3, "interpolate": "monotone", "color": "black"},
      "encoding": {"x": {"field": "h", "type": "quantitative", "axis": {"orient": "bottom", "values": [0,50,100,150,200,250,300,350], "tickSize": {"condition": {"test": "datum.value % 100 === 0", "value": -12}, "value": -5}, "labelExpr": "datum.value % 100 === 0 ? datum.label : ''", "labelPadding": 25, "domain": true, "title": "H, kOe", "titleFontSize": 26, "titleY": 48, "titleBaseline": "alphabetic"}},
       "y": {"field": "y", "type": "quantitative", "axis": {"orient": "right", "domain": true, "ticks": false, "labels": false, "title": "P(H), a.u.", "titleFontSize": 28, "titleX": 23, "titleY": 345, "titleBaseline": "alphabetic", "titleAngle": -90, "titleAlign": "center"}},
       "detail": {"field": "s"}}}
    ]
   }
  ]
 }
],
"spacing": -12
}
